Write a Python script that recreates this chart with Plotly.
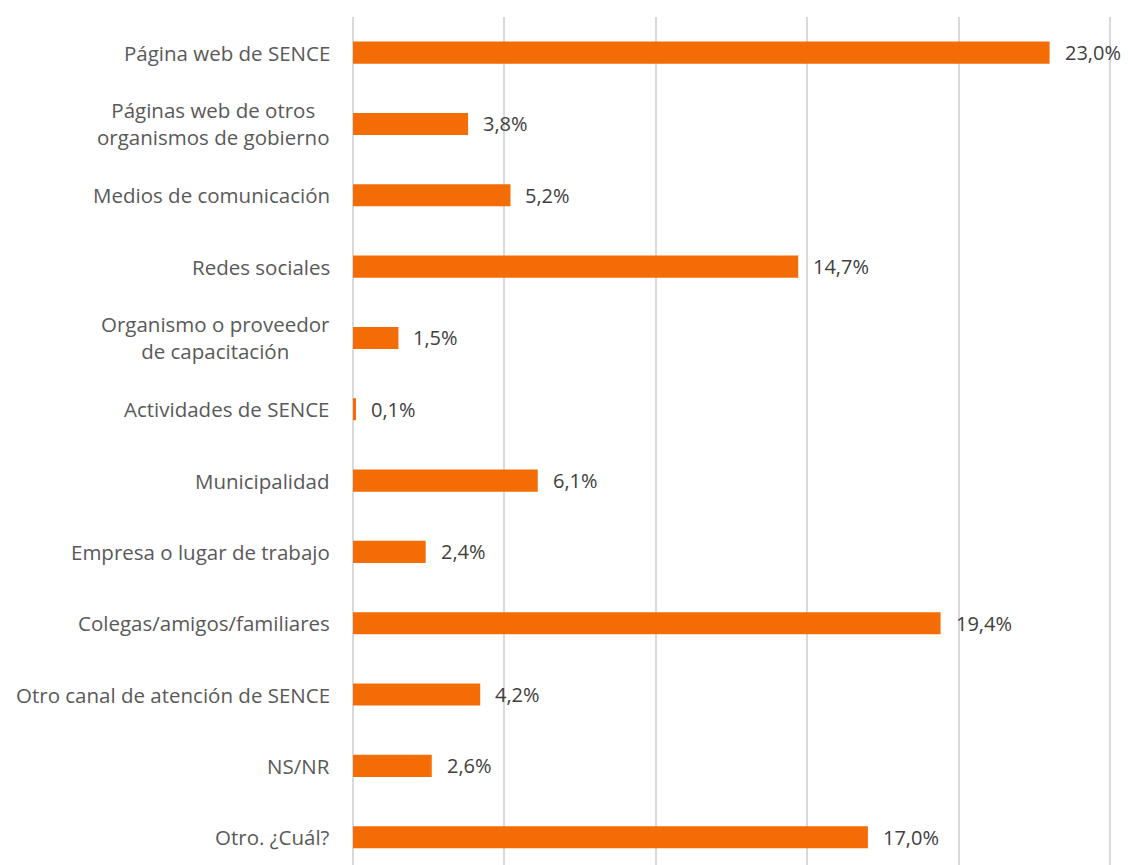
import plotly.graph_objects as go

categories = [
    "Página web de SENCE",
    "Páginas web de otros<br>organismos de gobierno",
    "Medios de comunicación",
    "Redes sociales",
    "Organismo o proveedor<br>de capacitación",
    "Actividades de SENCE",
    "Municipalidad",
    "Empresa o lugar de trabajo",
    "Colegas/amigos/familiares",
    "Otro canal de atención de SENCE",
    "NS/NR",
    "Otro. ¿Cuál?",
]
values = [23.0, 3.8, 5.2, 14.7, 1.5, 0.1, 6.1, 2.4, 19.4, 4.2, 2.6, 17.0]
value_labels = ["23,0%", "3,8%", "5,2%", "14,7%", "1,5%", "0,1%", "6,1%", "2,4%",
                "19,4%", "4,2%", "2,6%", "17,0%"]

FONT = "Open Sans"
idx = list(range(len(categories)))

fig = go.Figure()
fig.add_trace(go.Bar(
    x=values, y=idx, orientation="h",
    marker=dict(color="#F36C06", line=dict(width=0)),
    width=0.31, hoverinfo="skip",
))

annotations = []
for i, (v, t) in enumerate(zip(values, value_labels)):
    annotations.append(dict(x=v, y=i, xref="x", yref="y", text=t, showarrow=False,
                            xanchor="left", yanchor="middle", xshift=13,
                            font=dict(family=FONT, size=20, color="#404040")))
for i, c in enumerate(categories):
    annotations.append(dict(x=0, y=i, xref="paper", yref="y", text=c, showarrow=False,
                            xanchor="right", yanchor="middle", xshift=-21, align="center",
                            font=dict(family=FONT, size=20.5, color="#595959")))

fig.update_layout(
    width=1128, height=865,
    margin=dict(l=353, r=16, t=17, b=0),
    plot_bgcolor="white", paper_bgcolor="white",
    showlegend=False,
    annotations=annotations,
    xaxis=dict(range=[0, 25.06], tickvals=[5, 10, 15, 20, 25], showgrid=True,
               gridcolor="#D9D9D9", gridwidth=1.5,
               showticklabels=False, zeroline=True, zerolinecolor="#D9D9D9", zerolinewidth=1.5,
               fixedrange=True),
    yaxis=dict(range=[11.39, -0.5], showticklabels=False, showgrid=False, zeroline=False,
               fixedrange=True),
)

fig.write_html("out.html")
